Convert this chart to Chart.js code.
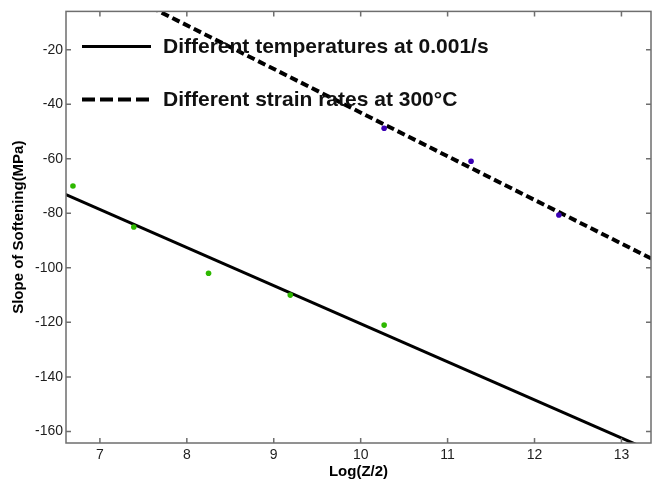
<!DOCTYPE html>
<html>
<head>
<meta charset="utf-8">
<script src="https://cdn.jsdelivr.net/npm/chart.js@4"></script>
<style>
  html, body { margin: 0; padding: 0; background: #fff; }
</style>
</head>
<body>
<canvas id="chart" width="658" height="486"></canvas>
<script>
// measured points
const tempX = [6.69, 7.39, 8.25, 9.19, 10.27];
const tempY = [-70, -85, -102, -110, -121];
const rateX = [10.27, 11.27, 12.28];
const rateY = [-48.8, -60.9, -80.6];

// fitted lines (end points, clipped by the axes)
const tempFitX = [6.6, 13.4];
const tempFitY = [-73, -168];
const rateFitX = [6.6, 13.4];
const rateFitY = [11.4, -97.5];

// axes
const xTicks = [7, 8, 9, 10, 11, 12, 13];
const yTicks = [-20, -40, -60, -80, -100, -120, -140, -160];
const legendLabels = ["Different temperatures at 0.001/s", "Different strain rates at 300\u00B0C"];

const FONT = "Arial, 'Liberation Sans', Helvetica, sans-serif";
const toPts = (xs, ys) => xs.map((x, i) => ({ x: x, y: ys[i] }));

// box with inward tick marks, matlab style
const boxPlugin = {
    id: "box",
    afterDatasetsDraw(chart) {
        const { ctx, chartArea: a, scales } = chart;
        ctx.save();
        ctx.strokeStyle = "#6e6e6e";
        ctx.lineWidth = 1.5;
        ctx.strokeRect(a.left, a.top, a.right - a.left, a.bottom - a.top);
        ctx.beginPath();
        xTicks.forEach(v => {
            const px = scales.x.getPixelForValue(v);
            ctx.moveTo(px, a.bottom); ctx.lineTo(px, a.bottom - 5);
            ctx.moveTo(px, a.top); ctx.lineTo(px, a.top + 5);
        });
        yTicks.forEach(v => {
            const py = scales.y.getPixelForValue(v);
            ctx.moveTo(a.left, py); ctx.lineTo(a.left + 5, py);
            ctx.moveTo(a.right, py); ctx.lineTo(a.right - 5, py);
        });
        ctx.stroke();
        ctx.restore();
    }
};

// legend drawn inside the plot, top left
const legendPlugin = {
    id: "inLegend",
    afterDraw(chart) {
        const { ctx, chartArea: a } = chart;
        const rows = [
            { ds: chart.data.datasets[2], dash: [], y: a.top + 35 },
            { ds: chart.data.datasets[3], dash: [13, 5], y: a.top + 88 }
        ];
        ctx.save();
        rows.forEach((r, i) => {
            ctx.beginPath();
            ctx.setLineDash(r.dash);
            ctx.strokeStyle = "#000";
            ctx.lineWidth = r.ds.borderWidth;
            ctx.moveTo(a.left + 16, r.y);
            ctx.lineTo(a.left + 85, r.y);
            ctx.stroke();
            ctx.setLineDash([]);
            ctx.fillStyle = "#111";
            ctx.font = "bold 21px " + FONT;
            ctx.textBaseline = "middle";
            ctx.textAlign = "left";
            ctx.fillText(legendLabels[i], a.left + 97, r.y + 1);
        });
        ctx.restore();
    }
};

new Chart(document.getElementById("chart"), {
    data: {
        datasets: [
            {
                type: "scatter",
                data: toPts(tempX, tempY),
                backgroundColor: "#2eb800",
                borderWidth: 0,
                pointRadius: 2.8,
                order: 0
            },
            {
                type: "scatter",
                data: toPts(rateX, rateY),
                backgroundColor: "#3a00b4",
                borderWidth: 0,
                pointRadius: 2.8,
                order: 0
            },
            {
                type: "line",
                data: toPts(tempFitX, tempFitY),
                borderColor: "#000",
                borderWidth: 3,
                pointRadius: 0,
                clip: 0,
                order: 1
            },
            {
                type: "line",
                data: toPts(rateFitX, rateFitY),
                borderColor: "#000",
                borderWidth: 4,
                borderDash: [8, 4],
                pointRadius: 0,
                clip: 0,
                order: 1
            }
        ]
    },
    options: {
        responsive: false,
        animation: false,
        devicePixelRatio: 1,
        layout: { padding: { top: 8, right: 7, left: 0, bottom: 0 } },
        plugins: {
            legend: { display: false },
            tooltip: { enabled: false }
        },
        scales: {
            x: {
                type: "linear",
                min: 6.61,
                max: 13.34,
                afterBuildTicks: s => { s.ticks = xTicks.map(v => ({ value: v })); },
                afterFit: s => { s.height = 43; },
                grid: { display: false, drawTicks: false },
                border: { display: false },
                ticks: { color: "#1e1e1e", padding: 4, font: { family: FONT, size: 14 } },
                title: {
                    display: true,
                    text: "Log(Z/2)",
                    color: "#000",
                    padding: { top: 0, bottom: 5 },
                    font: { family: FONT, size: 15, weight: "bold" }
                }
            },
            y: {
                type: "linear",
                min: -164.25,
                max: -5.93,
                afterBuildTicks: s => { s.ticks = yTicks.map(v => ({ value: v })); },
                afterFit: s => { s.width = 66; },
                grid: { display: false, drawTicks: false },
                border: { display: false },
                ticks: { color: "#1e1e1e", padding: 3, font: { family: FONT, size: 14 } },
                title: {
                    display: true,
                    text: "Slope of Softening(MPa)",
                    color: "#000",
                    padding: { top: 10, bottom: 0 },
                    font: { family: FONT, size: 15, weight: "bold" }
                }
            }
        }
    },
    plugins: [boxPlugin, legendPlugin]
});
</script>
</body>
</html>
